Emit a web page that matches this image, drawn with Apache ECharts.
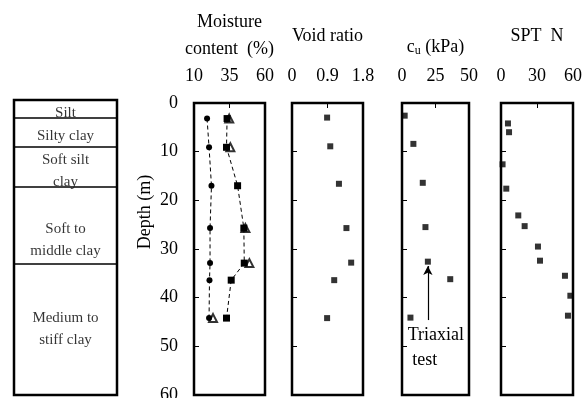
<!DOCTYPE html>
<html>
<head>
<meta charset="utf-8">
<script src="https://cdn.jsdelivr.net/npm/echarts@6/dist/echarts.min.js"></script>
<style>html,body{margin:0;padding:0;background:#fff;}#c{width:588px;height:398px;}</style>
</head>
<body>
<div id="c"></div>
<script>
// ---- data ----
const soilNames = ['Silt', 'Silty clay', 'Soft silt\nclay', 'Soft to\nmiddle clay', 'Medium to\nstiff clay'];
const soilLabelDepth = [2.0, 6.9, 13.9, 28.1, 46.4];
const soilBoundaries = [3.0, 9.0, 17.2, 33.1];

const mcDepth = [3.2, 9.1, 17.0, 25.7, 32.9, 36.4, 44.2];
const mcCircle = [19.2, 20.6, 22.3, 21.3, 21.3, 20.9, 20.6];
const mcSquare = [33.3, 32.9, 40.7, 45.1, 45.4, 36.2, 32.9];
const triDepth = [3.2, 9.1, 25.7, 32.9, 44.2];
const mcTriangle = [34.8, 35.6, 46.2, 49.0, 23.4];

const voidDepth = [3.0, 8.9, 16.6, 25.7, 32.8, 36.4, 44.2];
const voidRatio = [0.89, 0.97, 1.19, 1.38, 1.50, 1.07, 0.89];

const cuDepth = [2.6, 8.4, 16.4, 25.5, 32.6, 36.2, 44.1];
const cuVal = [2.0, 8.5, 15.5, 17.5, 19.3, 36.0, 6.3];

const sptDepth = [4.2, 6.0, 12.6, 17.6, 23.1, 25.3, 29.5, 32.4, 35.5, 39.6, 43.7];
const sptN = [5.8, 6.7, 1.3, 4.4, 14.4, 19.7, 30.8, 32.5, 53.3, 57.8, 55.8];

const moistureTicks = [10, 35, 60];

// ---- chart ----
const FONT = '"Liberation Serif", "Times New Roman", serif';
const chart = echarts.init(document.getElementById('c'), null, {renderer: 'canvas'});
const zip = (xs, ys) => xs.map((x, i) => [x, ys[i]]);

const gridBase = {show: true, borderColor: '#000', borderWidth: 2.5, backgroundColor: 'transparent',
  containLabel: false, outerBoundsMode: 'none'};
const grids = [
  Object.assign({}, gridBase, {left: 14, top: 100, width: 103, height: 295}),
  Object.assign({}, gridBase, {left: 194, top: 103, width: 71, height: 292}),
  Object.assign({}, gridBase, {left: 292, top: 103, width: 71, height: 292}),
  Object.assign({}, gridBase, {left: 402, top: 103, width: 67, height: 292}),
  Object.assign({}, gridBase, {left: 501, top: 103, width: 72, height: 292})
];

function xAx(gi, min, max, interval, name, nameGap, extra) {
  return Object.assign({
    type: 'value', gridIndex: gi, position: 'top', min: min, max: max, interval: interval,
    axisLine: {show: false},
    axisTick: {show: true, inside: true, length: 5, lineStyle: {color: '#000', width: 1}},
    splitLine: {show: false},
    axisLabel: {show: true, color: '#000', fontFamily: FONT, fontSize: 18, margin: 18},
    name: name, nameLocation: 'middle', nameGap: nameGap, nameMoveOverlap: false,
    nameTextStyle: {color: '#000', fontFamily: FONT, fontSize: 18, lineHeight: 27}
  }, extra || {});
}
function yAx(gi, showLabel, extra) {
  return Object.assign({
    type: 'value', gridIndex: gi, inverse: true, min: 0, max: 60, interval: 10,
    axisLine: {show: false},
    axisTick: {show: true, inside: true, length: 5, lineStyle: {color: '#000', width: 1}},
    splitLine: {show: false},
    axisLabel: {show: showLabel, color: '#000', fontFamily: FONT, fontSize: 18, margin: 16}
  }, extra || {});
}

const option = {
  animation: false,
  backgroundColor: '#fff',
  grid: grids,
  xAxis: [
    {type: 'value', gridIndex: 0, min: 0, max: 1, show: false},
    xAx(1, 10, 60, null, 'Moisture\ncontent  (%)', 40, {
      axisLabel: {show: true, color: '#000', fontFamily: FONT, fontSize: 18, margin: 18, customValues: moistureTicks},
      axisTick: {show: true, inside: true, length: 5, lineStyle: {color: '#000', width: 1}, customValues: [35]}
    }),
    xAx(2, 0, 1.8, 0.9, 'Void ratio', 53),
    xAx(3, 0, 50, 25, '{a|c}{s|u}{a| (kPa)}', 46, {
      nameTextStyle: {color: '#000', fontFamily: FONT, fontSize: 18,
        rich: {a: {fontFamily: FONT, fontSize: 18, color: '#000'}, s: {fontFamily: FONT, fontSize: 12, color: '#000', verticalAlign: 'bottom', padding: [8, 0, 0, 0]}}}
    }),
    xAx(4, 0, 60, 30, 'SPT  N', 53)
  ],
  yAxis: [
    {type: 'value', gridIndex: 0, inverse: true, min: -0.6, max: 60, show: false},
    yAx(1, true, {name: 'Depth (m)', nameLocation: 'middle', nameGap: 40, nameRotate: 90, nameMoveOverlap: false,
      nameTextStyle: {color: '#000', fontFamily: FONT, fontSize: 18, padding: [0, 0, 0, 74]}}),
    yAx(2, false),
    yAx(3, false),
    yAx(4, false)
  ],
  series: [
    {
      type: 'scatter', xAxisIndex: 0, yAxisIndex: 0, symbolSize: 0,
      data: soilLabelDepth.map((d, i) => ({value: [0.5, d], name: soilNames[i]})),
      label: {show: true, position: 'inside', formatter: p => p.name, color: '#000',
        fontFamily: FONT, fontSize: 15, lineHeight: 22, align: 'center', verticalAlign: 'middle'},
      markLine: {silent: true, symbol: ['none', 'none'], label: {show: false},
        lineStyle: {color: '#000', width: 1.5, type: 'solid'},
        data: soilBoundaries.map(d => ({yAxis: d}))}
    },
    {
      type: 'scatter', xAxisIndex: 1, yAxisIndex: 1, symbol: 'emptyTriangle', symbolSize: 8,
      itemStyle: {color: '#000', borderColor: '#000', borderWidth: 1},
      data: zip(mcTriangle, triDepth), z: 2
    },
    {
      type: 'line', xAxisIndex: 1, yAxisIndex: 1, symbol: 'circle', symbolSize: 6, showSymbol: true,
      itemStyle: {color: '#000'}, lineStyle: {color: '#000', width: 1, type: [4, 3]},
      data: zip(mcCircle, mcDepth), z: 3
    },
    {
      type: 'line', xAxisIndex: 1, yAxisIndex: 1, symbol: 'rect', symbolSize: 7, showSymbol: true,
      itemStyle: {color: '#000'}, lineStyle: {color: '#000', width: 1, type: [4, 3]},
      data: zip(mcSquare, mcDepth), z: 3
    },
    {
      type: 'scatter', xAxisIndex: 2, yAxisIndex: 2, symbol: 'rect', symbolSize: 6,
      itemStyle: {color: '#000'}, data: zip(voidRatio, voidDepth)
    },
    {
      type: 'scatter', xAxisIndex: 3, yAxisIndex: 3, symbol: 'rect', symbolSize: 6,
      itemStyle: {color: '#000'}, data: zip(cuVal, cuDepth),
      markLine: {silent: true, symbol: ['none', 'arrow'], symbolSize: [7, 9], label: {show: false},
        lineStyle: {color: '#000', width: 1.2, type: 'solid'},
        data: [[{coord: [19.3, 44.6]}, {coord: [19.3, 33.5]}]]},
      markPoint: {silent: true, symbol: 'rect', symbolSize: 0,
        label: {show: true, position: 'right', distance: 0, formatter: 'Triaxial\n test', color: '#000',
          fontFamily: FONT, fontSize: 18, lineHeight: 25, align: 'left'},
        data: [{coord: [4.3, 50.3]}]}
    },
    {
      type: 'scatter', xAxisIndex: 4, yAxisIndex: 4, symbol: 'rect', symbolSize: 6,
      itemStyle: {color: '#000'}, data: zip(sptN, sptDepth)
    }
  ]
};
chart.setOption(option);
</script>
</body>
</html>
